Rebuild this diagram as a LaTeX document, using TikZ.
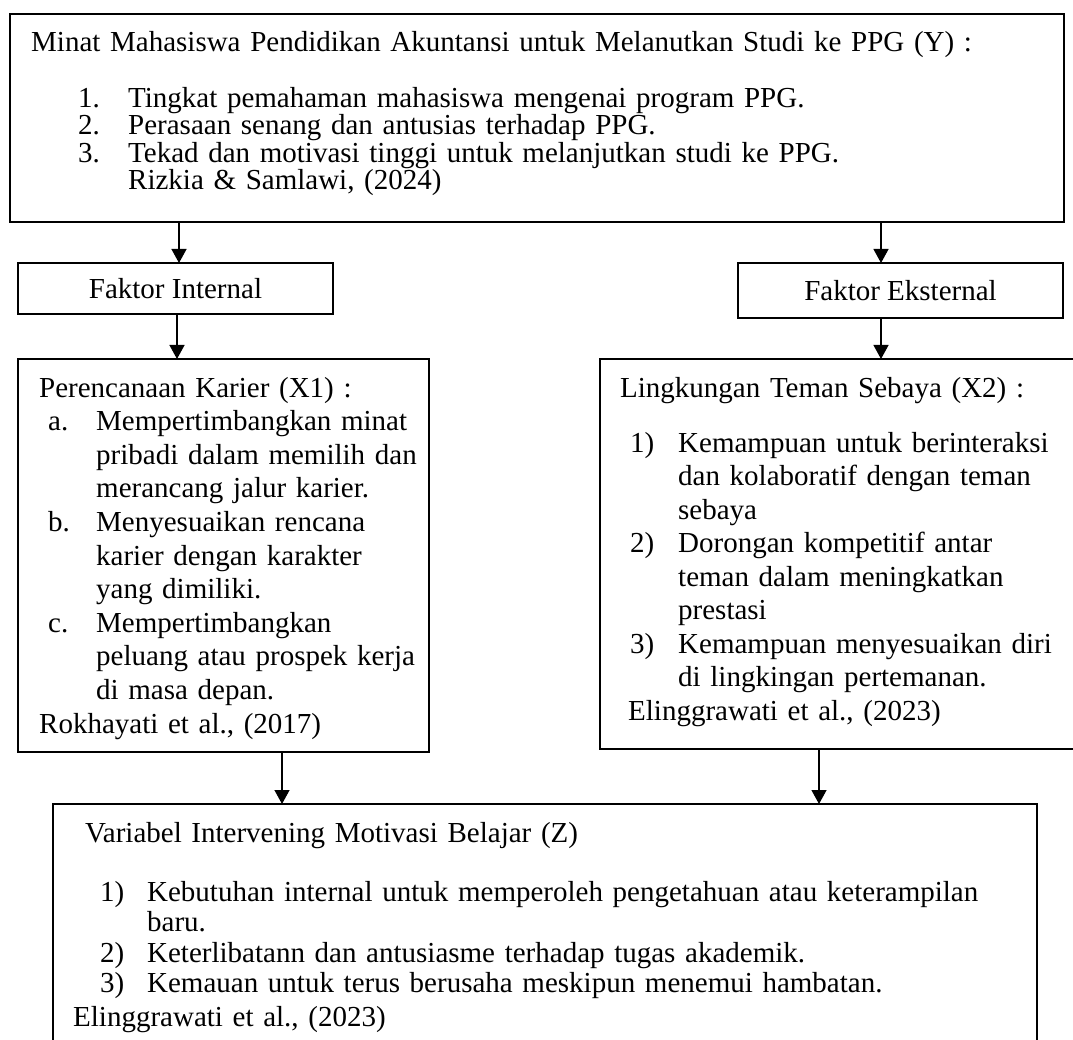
\documentclass[tikz,border=0pt]{standalone}
\usepackage{fontspec}
\setmainfont{Liberation Serif}
\usetikzlibrary{positioning, calc, arrows.meta}

\newcommand{\lbl}[3]{\hspace*{#1}\makebox[#2][l]{#3}}
\newcommand{\jst}[2]{\makebox[#1][s]{#2}}

\tikzset{
  kotak/.style={rectangle, draw, line width=2.7pt, outer sep=0pt, inner sep=0pt, anchor=north west},
  isi/.style={anchor=base west, inner sep=0pt, align=left},
  panah/.style={-{Triangle[width=15pt,length=14pt]}, line width=1.3pt}
}

\begin{document}
\begin{tikzpicture}[x=1pt, y=-1pt, font=\fontsize{29}{33.6}\selectfont]
\useasboundingbox (0,0) rectangle (1073,1040);

% kotak-kotak
\node[kotak, minimum width=1054pt, minimum height=208pt] (minat) at (10,14) {};
\node[kotak, minimum width=315pt, minimum height=51pt] (intern) at (18,263) {};
\node[kotak, minimum width=325pt, minimum height=55pt] (ekstern) at (738,263) {};
\node[kotak, minimum width=411pt, minimum height=393pt] (karier) at (18,359) {};
\node[kotak, minimum width=485pt, minimum height=390pt] (teman) at (600,359) {};
\node[kotak, minimum width=984pt, minimum height=256pt] (motivasi) at (53,804) {};

\node at (intern.center) {Faktor Internal};
\node at (ekstern.center) {Faktor Eksternal};

% isi teks
\node[isi, text width=1012pt, font=\fontsize{29}{25.7}\selectfont] (minatIsi) at (31,52)
  {Minat Mahasiswa Pendidikan Akuntansi untuk Melanutkan Studi ke PPG (Y) :\\[28.3pt]
   \lbl{47pt}{50pt}{1.}Tingkat pemahaman mahasiswa mengenai program PPG.\\
   \lbl{47pt}{50pt}{2.}Perasaan senang dan antusias terhadap PPG.\\
   \lbl{47pt}{50pt}{3.}Tekad dan motivasi tinggi untuk melanjutkan studi ke PPG.\\
   \hspace*{97pt}Rizkia \& Samlawi, (2024)};

\node[isi, text width=380pt, font=\fontsize{29}{33.6}\selectfont] (karierIsi) at (39,397)
  {Perencanaan Karier (X1) :\\
   \lbl{9pt}{48pt}{a.}\jst{317pt}{Mempertimbangkan minat}\\
   \hspace*{57pt}\jst{317pt}{pribadi dalam memilih dan}\\
   \hspace*{57pt}merancang jalur karier.\\
   \lbl{9pt}{48pt}{b.}\jst{317pt}{Menyesuaikan rencana}\\
   \hspace*{57pt}\jst{317pt}{karier dengan karakter}\\
   \hspace*{57pt}yang dimiliki.\\
   \lbl{9pt}{48pt}{c.}Mempertimbangkan\\
   \hspace*{57pt}\jst{317pt}{peluang atau prospek kerja}\\
   \hspace*{57pt}di masa depan.\\
   Rokhayati et al., (2017)};

\node[isi, text width=450pt, font=\fontsize{29}{33.5}\selectfont] (temanIsi) at (620,397)
  {Lingkungan Teman Sebaya (X2) :\\[21.5pt]
   \lbl{10pt}{48pt}{1)}Kemampuan untuk berinteraksi\\
   \hspace*{58pt}dan kolaboratif dengan teman\\
   \hspace*{58pt}sebaya\\
   \lbl{10pt}{48pt}{2)}Dorongan kompetitif antar\\
   \hspace*{58pt}teman dalam meningkatkan\\
   \hspace*{58pt}prestasi\\
   \lbl{10pt}{48pt}{3)}Kemampuan menyesuaikan diri\\
   \hspace*{58pt}di lingkingan pertemanan.\\
   \hspace*{8pt}Elinggrawati et al., (2023)};

\node[isi, text width=960pt, font=\fontsize{29}{30.5}\selectfont] (motivasiIsi) at (73,842)
  {\hspace*{12pt}Variabel Intervening Motivasi Belajar (Z)\\[28.5pt]
   \lbl{27pt}{47pt}{1)}\jst{870pt}{Kebutuhan internal untuk memperoleh pengetahuan atau keterampilan}\\
   \hspace*{74pt}baru.\\
   \lbl{27pt}{47pt}{2)}Keterlibatann dan antusiasme terhadap tugas akademik.\\
   \lbl{27pt}{47pt}{3)}Kemauan untuk terus berusaha meskipun menemui hambatan.\\[3pt]
   Elinggrawati et al., (2023)};

% panah
\coordinate (kolA) at (179,0);
\coordinate (kolB) at (881,0);
\coordinate (kolC) at (177,0);
\coordinate (kolD) at (282,0);
\coordinate (kolE) at (819,0);
\draw[panah] (kolA |- minat.south) -- (kolA |- intern.north);
\draw[panah] (kolB |- minat.south) -- (kolB |- ekstern.north);
\draw[panah] (kolC |- intern.south) -- (kolC |- karier.north);
\draw[panah] (kolB |- ekstern.south) -- (kolB |- teman.north);
\draw[panah] (kolD |- karier.south) -- (kolD |- motivasi.north);
\draw[panah] (kolE |- teman.south) -- (kolE |- motivasi.north);
\end{tikzpicture}
\end{document}
